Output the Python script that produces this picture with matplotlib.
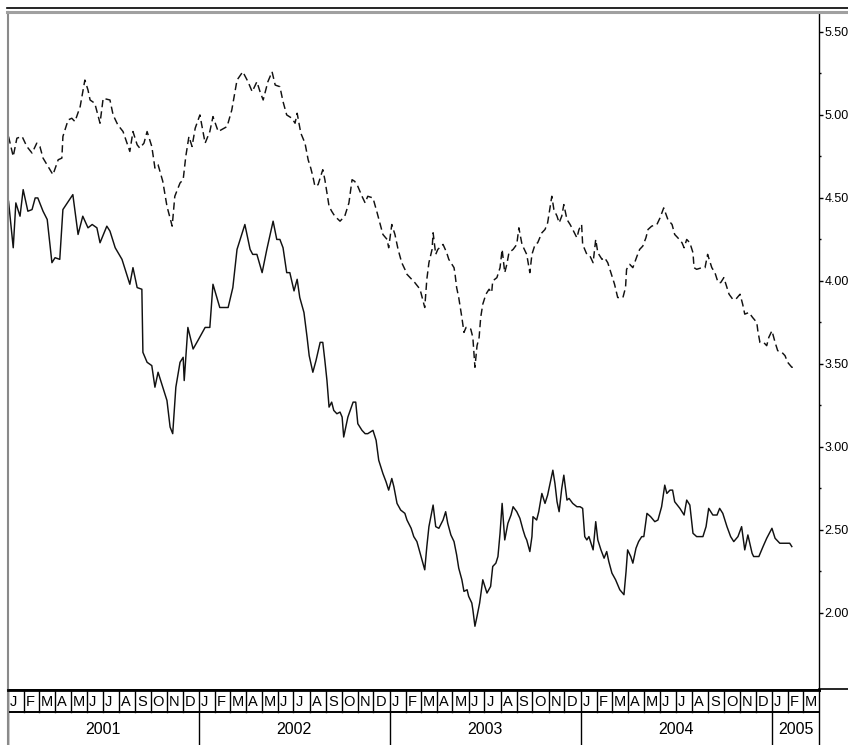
import matplotlib

matplotlib.use("Agg")

import matplotlib.pyplot as plt
import pandas as pd
from matplotlib.lines import Line2D
from matplotlib.transforms import offset_copy

FIG_W, FIG_H, FIG_DPI = 848, 745, 100
LINE_COLOR = "#111111"
BORDER_GRAY = "#8a8a8a"

# dashed series (upper)
upper_dates = [
    "2001-01-02", "2001-01-11", "2001-01-18", "2001-01-28", "2001-02-06", "2001-02-16", "2001-02-25", "2001-03-03",
    "2001-03-09", "2001-03-28", "2001-04-07", "2001-04-14", "2001-04-16", "2001-04-26", "2001-05-03", "2001-05-09",
    "2001-05-19", "2001-05-28", "2001-06-03", "2001-06-07", "2001-06-16", "2001-06-26", "2001-07-02", "2001-07-15",
    "2001-07-21", "2001-07-30", "2001-08-09", "2001-08-22", "2001-08-28", "2001-09-05", "2001-09-10", "2001-09-18",
    "2001-09-24", "2001-10-03", "2001-10-09", "2001-10-15", "2001-10-24", "2001-11-01", "2001-11-11", "2001-11-16",
    "2001-11-26", "2001-12-02", "2001-12-07", "2001-12-13", "2001-12-19", "2001-12-25", "2002-01-03", "2002-01-13",
    "2002-01-22", "2002-01-28", "2002-02-07", "2002-02-24", "2002-03-05", "2002-03-15", "2002-03-26", "2002-04-05",
    "2002-04-13", "2002-04-22", "2002-04-28", "2002-05-04", "2002-05-13", "2002-05-21", "2002-05-27", "2002-06-05",
    "2002-06-11", "2002-06-18", "2002-06-28", "2002-07-04", "2002-07-08", "2002-07-15", "2002-07-23", "2002-07-29",
    "2002-08-03", "2002-08-07", "2002-08-11", "2002-08-17", "2002-08-26", "2002-08-30", "2002-09-03", "2002-09-07",
    "2002-09-12", "2002-09-18", "2002-09-28", "2002-10-07", "2002-10-15", "2002-10-21", "2002-10-26", "2002-11-01",
    "2002-11-09", "2002-11-15", "2002-11-20", "2002-11-30", "2002-12-08", "2002-12-13", "2002-12-19", "2002-12-27",
    "2002-12-30", "2003-01-05", "2003-01-11", "2003-01-17", "2003-01-24", "2003-01-30", "2003-02-03", "2003-02-09",
    "2003-02-18", "2003-02-28", "2003-03-09", "2003-03-13", "2003-03-17", "2003-03-23", "2003-03-25", "2003-03-30",
    "2003-04-03", "2003-04-13", "2003-04-20", "2003-04-24", "2003-05-04", "2003-05-06", "2003-05-09", "2003-05-13",
    "2003-05-19", "2003-05-23", "2003-05-27", "2003-05-31", "2003-06-05", "2003-06-09", "2003-06-13", "2003-06-17",
    "2003-06-21", "2003-06-24", "2003-06-28", "2003-07-04", "2003-07-10", "2003-07-15", "2003-07-17", "2003-07-25",
    "2003-07-31", "2003-08-04", "2003-08-09", "2003-08-13", "2003-08-17", "2003-08-25", "2003-09-01", "2003-09-05",
    "2003-09-11", "2003-09-20", "2003-09-26", "2003-09-30", "2003-10-06", "2003-10-11", "2003-10-19", "2003-10-25",
    "2003-10-30", "2003-11-07", "2003-11-11", "2003-11-17", "2003-11-21", "2003-11-26", "2003-11-30", "2003-12-06",
    "2003-12-12", "2003-12-17", "2003-12-25", "2003-12-29", "2004-01-03", "2004-01-05", "2004-01-13", "2004-01-19",
    "2004-01-25", "2004-01-30", "2004-02-03", "2004-02-11", "2004-02-16", "2004-02-22", "2004-02-28", "2004-03-06",
    "2004-03-12", "2004-03-22", "2004-03-27", "2004-03-29", "2004-04-04", "2004-04-10", "2004-04-18", "2004-04-23",
    "2004-04-29", "2004-05-05", "2004-05-09", "2004-05-16", "2004-05-26", "2004-06-01", "2004-06-08", "2004-06-16",
    "2004-06-24", "2004-06-29", "2004-07-05", "2004-07-13", "2004-07-17", "2004-07-22", "2004-07-28", "2004-08-03",
    "2004-08-05", "2004-08-10", "2004-08-20", "2004-08-26", "2004-08-31", "2004-09-08", "2004-09-14", "2004-09-20",
    "2004-09-25", "2004-10-01", "2004-10-07", "2004-10-11", "2004-10-18", "2004-10-24", "2004-11-01", "2004-11-06",
    "2004-11-10", "2004-11-18", "2004-11-25", "2004-12-03", "2004-12-05", "2004-12-09", "2004-12-16", "2004-12-22",
    "2004-12-26", "2005-01-01", "2005-01-07", "2005-01-12", "2005-01-20", "2005-01-26", "2005-01-31", "2005-02-08",
    "2005-02-10",
]
upper_values = [
    4.87, 4.75, 4.86, 4.87, 4.81, 4.77, 4.83, 4.81,
    4.74, 4.64, 4.73, 4.74, 4.87, 4.97, 4.98, 4.96,
    5.05, 5.21, 5.15, 5.09, 5.07, 4.95, 5.10, 5.09,
    5.00, 4.94, 4.90, 4.78, 4.90, 4.82, 4.80, 4.83,
    4.90, 4.81, 4.68, 4.70, 4.60, 4.45, 4.33, 4.51,
    4.59, 4.61, 4.75, 4.87, 4.81, 4.92, 5.00, 4.83,
    4.90, 4.99, 4.90, 4.93, 5.03, 5.21, 5.26, 5.20,
    5.14, 5.20, 5.14, 5.09, 5.20, 5.26, 5.18, 5.17,
    5.08, 5.00, 4.98, 4.95, 5.01, 4.89, 4.83, 4.73,
    4.68, 4.63, 4.57, 4.58, 4.67, 4.61, 4.53, 4.45,
    4.42, 4.39, 4.36, 4.39, 4.47, 4.61, 4.60, 4.57,
    4.51, 4.47, 4.51, 4.50, 4.41, 4.35, 4.28, 4.25,
    4.20, 4.34, 4.28, 4.19, 4.11, 4.07, 4.04, 4.02,
    3.99, 3.95, 3.84, 4.01, 4.11, 4.19, 4.29, 4.16,
    4.19, 4.22, 4.17, 4.13, 4.08, 4.04, 3.96, 3.90,
    3.78, 3.69, 3.72, 3.72, 3.71, 3.66, 3.48, 3.61,
    3.66, 3.78, 3.86, 3.92, 3.95, 3.93, 4.00, 4.02,
    4.08, 4.19, 4.05, 4.10, 4.17, 4.19, 4.22, 4.32,
    4.22, 4.16, 4.05, 4.16, 4.22, 4.23, 4.29, 4.31,
    4.35, 4.51, 4.43, 4.39, 4.35, 4.39, 4.46, 4.37,
    4.34, 4.31, 4.26, 4.31, 4.34, 4.22, 4.16, 4.15,
    4.11, 4.25, 4.17, 4.13, 4.14, 4.11, 4.05, 3.98,
    3.90, 3.90, 3.96, 4.07, 4.10, 4.08, 4.15, 4.19,
    4.21, 4.26, 4.31, 4.33, 4.34, 4.38, 4.44, 4.37,
    4.34, 4.28, 4.26, 4.23, 4.20, 4.25, 4.23, 4.17,
    4.08, 4.07, 4.08, 4.08, 4.16, 4.08, 4.05, 3.99,
    3.99, 4.02, 3.96, 3.92, 3.89, 3.89, 3.92, 3.86,
    3.80, 3.81, 3.78, 3.75, 3.70, 3.63, 3.63, 3.61,
    3.66, 3.70, 3.63, 3.58, 3.57, 3.55, 3.51, 3.48,
    3.48,
]

# solid series (lower)
lower_dates = [
    "2001-01-02", "2001-01-11", "2001-01-16", "2001-01-24", "2001-01-30", "2001-02-08", "2001-02-16", "2001-02-22",
    "2001-02-27", "2001-03-09", "2001-03-17", "2001-03-26", "2001-04-01", "2001-04-10", "2001-04-16", "2001-05-05",
    "2001-05-15", "2001-05-24", "2001-06-03", "2001-06-11", "2001-06-20", "2001-06-26", "2001-07-09", "2001-07-15",
    "2001-07-25", "2001-08-07", "2001-08-22", "2001-08-28", "2001-09-05", "2001-09-14", "2001-09-16", "2001-09-24",
    "2001-10-03", "2001-10-09", "2001-10-15", "2001-10-24", "2001-11-01", "2001-11-07", "2001-11-12", "2001-11-18",
    "2001-11-26", "2001-12-02", "2001-12-04", "2001-12-11", "2001-12-21", "2001-12-30", "2002-01-13", "2002-01-22",
    "2002-01-28", "2002-02-10", "2002-02-16", "2002-02-26", "2002-03-07", "2002-03-15", "2002-03-30", "2002-04-09",
    "2002-04-14", "2002-04-22", "2002-05-02", "2002-05-11", "2002-05-23", "2002-05-30", "2002-06-05", "2002-06-11",
    "2002-06-18", "2002-06-24", "2002-07-02", "2002-07-08", "2002-07-13", "2002-07-21", "2002-07-27", "2002-07-31",
    "2002-08-07", "2002-08-13", "2002-08-21", "2002-08-26", "2002-08-30", "2002-09-03", "2002-09-07", "2002-09-12",
    "2002-09-16", "2002-09-22", "2002-09-28", "2002-10-02", "2002-10-05", "2002-10-13", "2002-10-23", "2002-10-28",
    "2002-11-01", "2002-11-09", "2002-11-15", "2002-11-20", "2002-11-30", "2002-12-06", "2002-12-11", "2002-12-19",
    "2002-12-25", "2002-12-30", "2003-01-05", "2003-01-09", "2003-01-15", "2003-01-22", "2003-01-30", "2003-02-03",
    "2003-02-11", "2003-02-16", "2003-02-22", "2003-03-02", "2003-03-09", "2003-03-13", "2003-03-17", "2003-03-25",
    "2003-03-30", "2003-04-05", "2003-04-13", "2003-04-18", "2003-04-22", "2003-04-28", "2003-05-04", "2003-05-09",
    "2003-05-13", "2003-05-19", "2003-05-23", "2003-05-29", "2003-06-01", "2003-06-07", "2003-06-09", "2003-06-13",
    "2003-06-17", "2003-06-22", "2003-06-28", "2003-07-02", "2003-07-06", "2003-07-13", "2003-07-17", "2003-07-23",
    "2003-07-27", "2003-07-31", "2003-08-04", "2003-08-09", "2003-08-15", "2003-08-21", "2003-08-25", "2003-09-01",
    "2003-09-07", "2003-09-13", "2003-09-17", "2003-09-20", "2003-09-26", "2003-09-30", "2003-10-02", "2003-10-09",
    "2003-10-13", "2003-10-19", "2003-10-25", "2003-10-30", "2003-11-09", "2003-11-13", "2003-11-17", "2003-11-21",
    "2003-11-26", "2003-11-30", "2003-12-06", "2003-12-10", "2003-12-17", "2003-12-25", "2003-12-31", "2004-01-05",
    "2004-01-09", "2004-01-13", "2004-01-17", "2004-01-25", "2004-01-30", "2004-02-03", "2004-02-09", "2004-02-15",
    "2004-02-20", "2004-02-24", "2004-03-01", "2004-03-08", "2004-03-16", "2004-03-24", "2004-03-28", "2004-03-31",
    "2004-04-06", "2004-04-10", "2004-04-16", "2004-04-21", "2004-04-27", "2004-05-01", "2004-05-07", "2004-05-14",
    "2004-05-22", "2004-05-28", "2004-06-04", "2004-06-10", "2004-06-14", "2004-06-20", "2004-06-25", "2004-06-29",
    "2004-07-09", "2004-07-17", "2004-07-22", "2004-07-28", "2004-08-03", "2004-08-10", "2004-08-22", "2004-08-28",
    "2004-09-02", "2004-09-10", "2004-09-18", "2004-09-23", "2004-09-29", "2004-10-07", "2004-10-14", "2004-10-20",
    "2004-10-28", "2004-11-04", "2004-11-10", "2004-11-16", "2004-11-24", "2004-11-27", "2004-12-07", "2004-12-15",
    "2004-12-22", "2005-01-01", "2005-01-07", "2005-01-16", "2005-02-04", "2005-02-08",
]
lower_values = [
    4.48, 4.20, 4.47, 4.39, 4.55, 4.42, 4.43, 4.50,
    4.50, 4.42, 4.37, 4.11, 4.14, 4.13, 4.43, 4.52,
    4.28, 4.39, 4.32, 4.34, 4.32, 4.23, 4.33, 4.30,
    4.20, 4.13, 3.98, 4.08, 3.96, 3.95, 3.57, 3.51,
    3.49, 3.36, 3.45, 3.36, 3.28, 3.12, 3.08, 3.36,
    3.51, 3.54, 3.40, 3.72, 3.59, 3.64, 3.72, 3.72,
    3.98, 3.84, 3.84, 3.84, 3.96, 4.19, 4.34, 4.19,
    4.16, 4.16, 4.05, 4.19, 4.36, 4.25, 4.25, 4.20,
    4.05, 4.05, 3.94, 4.01, 3.90, 3.81, 3.66, 3.55,
    3.45, 3.52, 3.63, 3.63, 3.52, 3.40, 3.24, 3.27,
    3.22, 3.20, 3.21, 3.18, 3.06, 3.18, 3.27, 3.27,
    3.14, 3.10, 3.08, 3.08, 3.10, 3.04, 2.92, 2.84,
    2.79, 2.74, 2.81, 2.76, 2.66, 2.62, 2.60, 2.56,
    2.51, 2.46, 2.43, 2.34, 2.26, 2.40, 2.52, 2.65,
    2.52, 2.51, 2.56, 2.61, 2.54, 2.47, 2.43, 2.35,
    2.27, 2.20, 2.13, 2.14, 2.10, 2.06, 2.02, 1.92,
    1.98, 2.06, 2.20, 2.16, 2.12, 2.16, 2.28, 2.30,
    2.34, 2.48, 2.66, 2.44, 2.54, 2.59, 2.64, 2.61,
    2.57, 2.50, 2.46, 2.44, 2.37, 2.46, 2.58, 2.56,
    2.61, 2.72, 2.66, 2.71, 2.86, 2.78, 2.67, 2.61,
    2.75, 2.83, 2.68, 2.69, 2.66, 2.64, 2.64, 2.63,
    2.46, 2.44, 2.46, 2.38, 2.55, 2.44, 2.38, 2.33,
    2.37, 2.31, 2.24, 2.20, 2.14, 2.11, 2.25, 2.38,
    2.34, 2.30, 2.39, 2.43, 2.46, 2.46, 2.60, 2.58,
    2.55, 2.56, 2.64, 2.77, 2.72, 2.74, 2.74, 2.67,
    2.63, 2.59, 2.68, 2.65, 2.48, 2.46, 2.46, 2.52,
    2.63, 2.59, 2.59, 2.63, 2.60, 2.52, 2.46, 2.43,
    2.46, 2.52, 2.38, 2.47, 2.36, 2.34, 2.34, 2.40,
    2.45, 2.51, 2.45, 2.42, 2.42, 2.40,
]

month_letters = ["J", "F", "M", "A", "M", "J", "J", "A", "S", "O", "N", "D"]
y_major_ticks = [2.00, 2.50, 3.00, 3.50, 4.00, 4.50, 5.00, 5.50]
y_minor_ticks = [2.25, 2.75, 3.25, 3.75, 4.25, 4.75, 5.25]
x_start, x_end = pd.Timestamp("2001-01-01"), pd.Timestamp("2005-04-01")
y_min, y_max = 1.536, 5.62


def fx(px):
    return px / FIG_W


def fy(py):
    return 1 - py / FIG_H


plt.rcParams["font.family"] = ["Liberation Sans", "DejaVu Sans"]
fig = plt.figure(figsize=(FIG_W / FIG_DPI, FIG_H / FIG_DPI), dpi=FIG_DPI)
fig.patch.set_facecolor("white")

ax = fig.add_axes([fx(8), fy(690), fx(819) - fx(8), fy(12) - fy(690)])
band = fig.add_axes([fx(8), 0, fx(819) - fx(8), fy(690)], sharex=ax)

ax.plot(pd.to_datetime(upper_dates), upper_values, color=LINE_COLOR, linewidth=1.05, dashes=(5, 2.8))
ax.plot(pd.to_datetime(lower_dates), lower_values, color=LINE_COLOR, linewidth=1.05)

ax.set_xlim(x_start, x_end)
ax.set_ylim(y_min, y_max)
ax.yaxis.tick_right()
ax.set_yticks(y_major_ticks)
ax.set_yticklabels([f"{v:.2f}" for v in y_major_ticks])
ax.set_yticks(y_minor_ticks, minor=True)
ax.tick_params(axis="y", which="major", direction="out", length=3, width=1, pad=1, labelsize=9, colors="black")
ax.tick_params(axis="y", which="minor", direction="out", length=1.5, width=1)
ax.tick_params(axis="x", which="both", bottom=False, labelbottom=False)
ax.spines["top"].set_visible(False)
ax.spines["left"].set_color(BORDER_GRAY)
ax.spines["left"].set_linewidth(1.5)
ax.spines["right"].set_linewidth(1.0)
ax.spines["bottom"].set_linewidth(2.0)

# month / year strip
band.set_ylim(0, 1)
band.tick_params(axis="both", which="both", bottom=False, left=False, labelbottom=False, labelleft=False)
band.spines["bottom"].set_visible(False)
band.spines["top"].set_linewidth(2.0)
band.spines["left"].set_color(BORDER_GRAY)
band.spines["left"].set_linewidth(1.5)
band.spines["right"].set_linewidth(1.0)
band.axhline(0.6, color="black", linewidth=1.4)

strip_font = ["Liberation Sans Narrow", "Liberation Sans", "DejaVu Sans"]
letter_trans = offset_copy(band.transData, fig=fig, x=2, y=0, units="dots")
for m in pd.date_range(x_start, x_end - pd.Timedelta(days=1), freq="MS"):
    if m.month == 1:
        band.plot([m, m], [0, 1], color="black", linewidth=1.0)
    else:
        band.plot([m, m], [0.6, 1], color="black", linewidth=1.0)
    band.text(m, 0.79, month_letters[m.month - 1], transform=letter_trans, ha="left", va="center",
              fontsize=10.5, family=strip_font)

for year in range(x_start.year, x_end.year + 1):
    y0 = pd.Timestamp(f"{year}-01-01")
    y1 = min(pd.Timestamp(f"{year + 1}-01-01"), x_end)
    band.text(y0 + (y1 - y0) / 2, 0.28, str(year), ha="center", va="center", fontsize=11.5, family=strip_font)

# frame lines drawn outside the axes
fig.add_artist(Line2D([fx(7), 1], [fy(8), fy(8)], color="black", linewidth=1.2))
fig.add_artist(Line2D([fx(7), 1], [fy(11.5), fy(11.5)], color="#a0a0a0", linewidth=2.2))
fig.add_artist(Line2D([fx(819), 1], [fy(689), fy(689)], color="black", linewidth=1.2))

fig.savefig("out.png", dpi=FIG_DPI, facecolor="white")
